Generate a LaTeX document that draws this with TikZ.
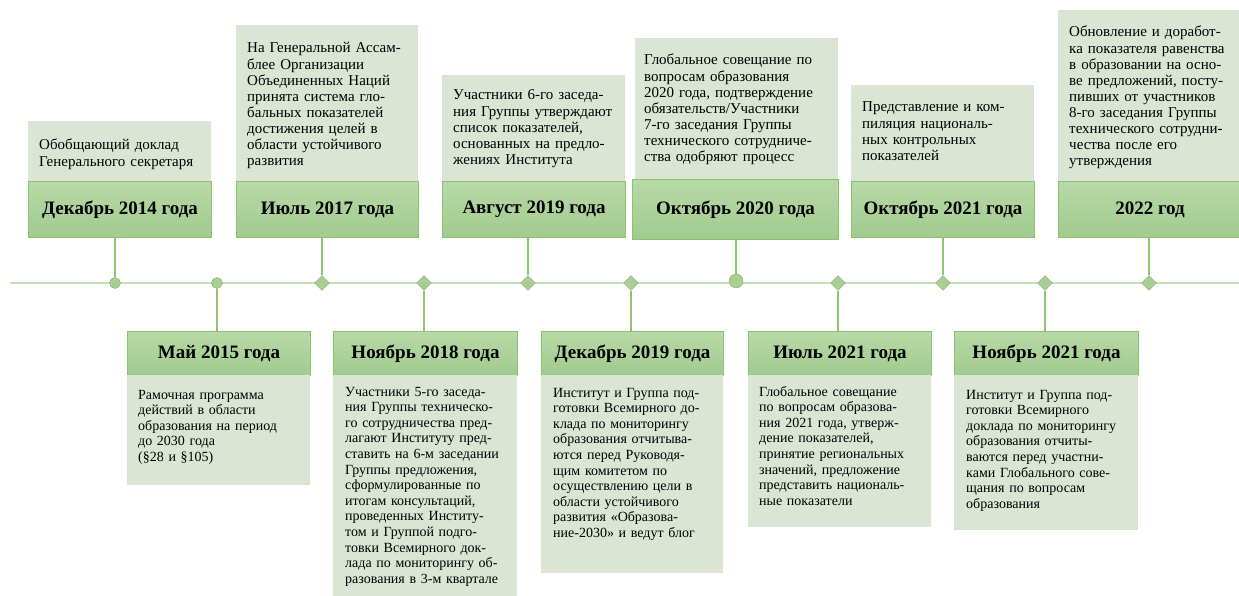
\documentclass[tikz,border=0pt]{standalone}
\usepackage{fontspec}
\setmainfont{Liberation Serif}
\usetikzlibrary{shapes.geometric}
\definecolor{linegreen}{HTML}{C5E0B4}
\definecolor{stemgreen}{HTML}{8FC46F}
\definecolor{notefill}{HTML}{DAE5D4}
\definecolor{datetop}{HTML}{B7D9A8}
\definecolor{datebot}{HTML}{A1CB8E}
\definecolor{dateedge}{HTML}{8CC26C}
\definecolor{markfill}{HTML}{A8CE93}
\definecolor{markedge}{HTML}{8CAA7C}

\begin{document}
\begin{tikzpicture}[x=1pt, y=-1pt,
    datebox/.style={draw=dateedge, line width=1pt, top color=datetop, bottom color=datebot,
      anchor=north west, inner sep=0, font=\bfseries\fontsize{19}{22}\selectfont},
    notebox/.style={fill=notefill, anchor=north west, inner sep=0},
    notetext/.style={anchor=base west, inner sep=0, text width=200, align=left,
      font=\fontsize{15}{16.1}\selectfont},
    lowtext/.style={notetext, font=\fontsize{14}{15.6}\selectfont},
    markdot/.style={circle, draw=markedge, fill=markfill, minimum size=11, inner sep=0},
    markgem/.style={diamond, draw=markedge, fill=markfill, minimum size=15, inner sep=0},
    timeline/.style={draw=linegreen, line width=2pt},
    stemline/.style={draw=stemgreen, line width=1.5pt}]
    \useasboundingbox (0,0) rectangle (1239,596);

    % axis
    \coordinate (tl0) at (10,283);
    \coordinate (tl1) at (1239,283);
    \draw[timeline] (tl0) -- (tl1);

    % upper row
    \node[notebox, minimum width=183, minimum height=60] (n1) at (28,121) {};
    \node[datebox, minimum width=183, minimum height=56] (d1) at (28,181) {Декабрь 2014 года};
    \node[notetext] (t1) at ([shift={(11,29)}]n1.north west) {Обобщающий доклад\\Генерального секретаря};

    \node[notebox, minimum width=182, minimum height=156] (n3) at (236,25) {};
    \node[datebox, minimum width=182, minimum height=56] (d3) at (236,181) {Июль 2017 года};
    \node[notetext] (t3) at ([shift={(11,28)}]n3.north west) {На Генеральной Ассам-\\блее Организации\\Объединенных Наций\\принята система гло-\\бальных показателей\\достижения целей в\\области устойчивого\\развития};

    \node[notebox, minimum width=183, minimum height=106] (n5) at (442,75) {};
    \node[datebox, minimum width=183, minimum height=56] (d5) at (442,181) {Август 2019 года};
    \node[notetext] (t5) at ([shift={(11,25)}]n5.north west) {Участники 6-го заседа-\\ния Группы утверждают\\список показателей,\\основанных на предло-\\жениях Института};

    \node[notebox, minimum width=203, minimum height=141] (n7) at (635,38) {};
    \node[datebox, minimum width=206, minimum height=60] (d7) at (632,179) {Октябрь 2020 года};
    \node[notetext] (t7) at ([shift={(9,27)}]n7.north west) {Глобальное совещание по\\вопросам образования\\2020 года, подтверждение\\обязательств/Участники\\7-го заседания Группы\\технического сотрудниче-\\ства одобряют процесс};

    \node[notebox, minimum width=183, minimum height=96] (n9) at (851,85) {};
    \node[datebox, minimum width=183, minimum height=56] (d9) at (851,181) {Октябрь 2021 года};
    \node[notetext] (t9) at ([shift={(11,27)}]n9.north west) {Представление и ком-\\пиляция националь-\\ных контрольных\\показателей};

    \node[notebox, minimum width=183, minimum height=171] (n11) at (1058,10) {};
    \node[datebox, minimum width=183, minimum height=56] (d11) at (1058,181) {2022 год};
    \node[notetext] (t11) at ([shift={(11,27)}]n11.north west) {Обновление и доработ-\\ка показателя равенства\\в образовании на осно-\\ве предложений, посту-\\пивших от участников\\8-го заседания Группы\\технического сотрудни-\\чества после его\\утверждения};

    % lower row
    \node[datebox, minimum width=183, minimum height=44] (d2) at (127,331) {Май 2015 года};
    \node[notebox, minimum width=183, minimum height=110] (n2) at (127,375) {};
    \node[lowtext] (t2) at ([shift={(11,24)}]n2.north west) {Рамочная программа\\действий в области\\образования на период\\до 2030 года\\(§28 и §105)};

    \node[datebox, minimum width=184, minimum height=44] (d4) at (333,331) {Ноябрь 2018 года};
    \node[notebox, minimum width=184, minimum height=221] (n4) at (333,375) {};
    \node[lowtext] (t4) at ([shift={(12,21)}]n4.north west) {Участники 5-го заседа-\\ния Группы техническо-\\го сотрудничества пред-\\лагают Институту пред-\\ставить на 6-м заседании\\Группы предложения,\\сформулированные по\\итогам консультаций,\\проведенных Институ-\\том и Группой подго-\\товки Всемирного док-\\лада по мониторингу об-\\разования в 3-м квартале};

    \node[datebox, minimum width=182, minimum height=44] (d6) at (541,331) {Декабрь 2019 года};
    \node[notebox, minimum width=182, minimum height=198] (n6) at (541,375) {};
    \node[lowtext] (t6) at ([shift={(12,22)}]n6.north west) {Институт и Группа под-\\готовки Всемирного до-\\клада по мониторингу\\образования отчитыва-\\ются перед Руководя-\\щим комитетом по\\осуществлению цели в\\области устойчивого\\развития «Образова-\\ние-2030» и ведут блог};

    \node[datebox, minimum width=183, minimum height=44] (d8) at (748,331) {Июль 2021 года};
    \node[notebox, minimum width=183, minimum height=152] (n8) at (748,375) {};
    \node[lowtext] (t8) at ([shift={(11,21)}]n8.north west) {Глобальное совещание\\по вопросам образова-\\ния 2021 года, утверж-\\дение показателей,\\принятие региональных\\значений, предложение\\представить националь-\\ные показатели};

    \node[datebox, minimum width=184, minimum height=44] (d10) at (954,331) {Ноябрь 2021 года};
    \node[notebox, minimum width=184, minimum height=155] (n10) at (954,375) {};
    \node[lowtext] (t10) at ([shift={(12,24)}]n10.north west) {Институт и Группа под-\\готовки Всемирного\\доклада по мониторингу\\образования отчиты-\\ваются перед участни-\\ками Глобального сове-\\щания по вопросам\\образования};

    % markers
    \node[markdot] (m1) at (115,283) {};
    \node[markdot] (m2) at (217,283) {};
    \node[markgem] (m3) at (322,283) {};
    \node[markgem] (m4) at (424,283) {};
    \node[markgem] (m5) at (528,283) {};
    \node[markgem] (m6) at (631,283) {};
    \node[markdot, minimum size=14] (m7) at (736,281) {};
    \node[markgem] (m8) at (838,283) {};
    \node[markgem] (m9) at (943,283) {};
    \node[markgem] (m10) at (1045,283) {};
    \node[markgem] (m11) at (1149,283) {};

    % stems
    \draw[stemline] (m1.north) -- (m1.north |- d1.south);
    \draw[stemline] (m3.north) -- (m3.north |- d3.south);
    \draw[stemline] (m5.north) -- (m5.north |- d5.south);
    \draw[stemline] (m7.north) -- (m7.north |- d7.south);
    \draw[stemline] (m9.north) -- (m9.north |- d9.south);
    \draw[stemline] (m11.north) -- (m11.north |- d11.south);
    \draw[stemline] (m2.south) -- (m2.south |- d2.north);
    \draw[stemline] (m4.south) -- (m4.south |- d4.north);
    \draw[stemline] (m6.south) -- (m6.south |- d6.north);
    \draw[stemline] (m8.south) -- (m8.south |- d8.north);
    \draw[stemline] (m10.south) -- (m10.south |- d10.north);
  \end{tikzpicture}
\end{document}
